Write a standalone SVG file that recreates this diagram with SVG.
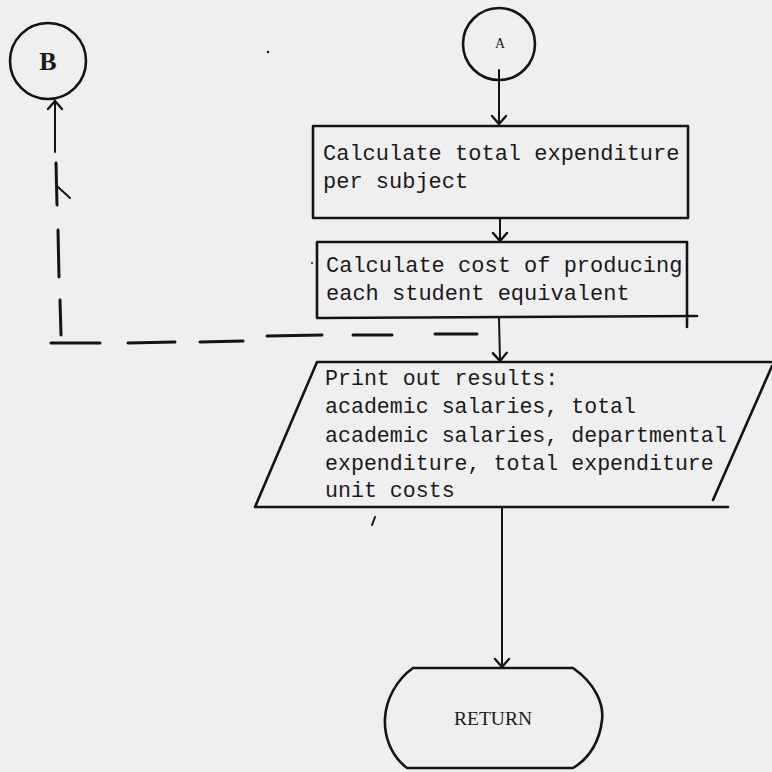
<svg xmlns="http://www.w3.org/2000/svg" width="772" height="772" viewBox="0 0 772 772">
  <defs>
    <style>
      .ink { fill: none; stroke: #141414; stroke-width: 2.6; stroke-linecap: round; stroke-linejoin: round; }
      .thin { fill: none; stroke: #141414; stroke-width: 2; stroke-linecap: round; }
      .dash { fill: none; stroke: #141414; stroke-width: 3; stroke-linecap: round; }
      .mono { font-family: "Liberation Mono", "DejaVu Sans Mono", monospace; font-size: 22px; fill: #1a1a1a; }
      .serif { font-family: "Liberation Serif", "DejaVu Serif", serif; fill: #1a1a1a; }
    </style>
    <marker id="vee" viewBox="-10 -10 20 20" markerWidth="20" markerHeight="20" markerUnits="userSpaceOnUse" orient="auto">
      <path d="M -8 -7 L 0 0 L -8 7" fill="none" stroke="#141414" stroke-width="2.4" stroke-linecap="round"/>
    </marker>
  </defs>

  <rect width="772" height="772" fill="#efefef"/>

  <!-- Connectors -->
  <g id="connectors">
    <line class="thin" x1="499" y1="70" x2="499" y2="124" marker-end="url(#vee)"/>
    <line class="thin" x1="500" y1="218" x2="500" y2="241" marker-end="url(#vee)"/>
    <line class="thin" x1="499" y1="318" x2="500" y2="361" marker-end="url(#vee)"/>
    <line class="thin" x1="502" y1="508" x2="502" y2="667" marker-end="url(#vee)"/>
    <!-- dashed return path to connector B -->
    <g id="loop-to-B">
      <line class="dash" x1="51" y1="343" x2="100" y2="343"/>
      <line class="dash" x1="128" y1="343" x2="175" y2="342"/>
      <line class="dash" x1="200" y1="342" x2="243" y2="341"/>
      <line class="dash" x1="267" y1="336" x2="322" y2="335"/>
      <line class="dash" x1="353" y1="335" x2="392" y2="335"/>
      <line class="dash" x1="435" y1="334" x2="477" y2="334"/>
      <line class="dash" x1="61" y1="335" x2="60" y2="300"/>
      <line class="dash" x1="59" y1="277" x2="58" y2="230"/>
      <line class="dash" x1="57" y1="205" x2="56" y2="163"/>
      <path class="thin" d="M 58 187 L 70 198"/>
      <line class="thin" x1="55" y1="152" x2="55" y2="101" marker-end="url(#vee)"/>
    </g>
  </g>

  <!-- Off-page connector B -->
  <g id="node-B">
    <circle class="ink" cx="48" cy="61" r="38"/>
    <text class="serif" x="48" y="70" font-size="26" font-weight="bold" text-anchor="middle">B</text>
  </g>

  <!-- Connector A -->
  <g id="node-A">
    <circle class="ink" cx="499" cy="44" r="36"/>
    <text class="serif" x="500" y="48" font-size="14" text-anchor="middle">A</text>
  </g>

  <!-- Process: total expenditure -->
  <g id="node-total-expenditure">
    <rect class="ink" x="313" y="126" width="375" height="92"/>
    <text class="mono" x="323" y="160">Calculate total expenditure</text>
    <text class="mono" x="323" y="188">per subject</text>
  </g>

  <!-- Process: cost per student equivalent -->
  <g id="node-unit-cost">
    <path class="ink" d="M 317 242 L 687 242 L 687 327 M 697 316 L 317 318 L 317 242"/>
    <text class="mono" x="326" y="272">Calculate cost of producing</text>
    <text class="mono" x="326" y="300">each student equivalent</text>
  </g>

  <!-- Output: print results -->
  <g id="node-print">
    <path class="ink" d="M 317 362 L 774 362 M 772 366 L 713 500 M 728 507 L 255 507 L 317 362"/>
    <g class="mono" style="font-size:21.6px">
      <text x="325" y="385">Print out results:</text>
      <text x="325" y="413">academic salaries, total</text>
      <text x="325" y="442">academic salaries, departmental</text>
      <text x="325" y="470">expenditure, total expenditure</text>
      <text x="325" y="497">unit costs</text>
    </g>
  </g>

  <!-- Terminal: RETURN -->
  <g id="node-return">
    <path class="ink" d="M 413 668 L 573 668 C 596 684 604 705 602 720 C 600 740 590 758 573 768 L 407 768 C 390 755 384 735 385 718 C 386 700 396 680 413 668 Z"/>
    <text class="serif" x="493" y="725" font-size="19.5" text-anchor="middle">RETURN</text>
  </g>

  <!-- stray marks -->
  <path class="thin" d="M 375 517 L 372 525" stroke-width="1.6"/>
  <circle cx="268" cy="52" r="1.3" fill="#222"/>
  <circle cx="312" cy="263" r="1.1" fill="#333"/>
</svg>
